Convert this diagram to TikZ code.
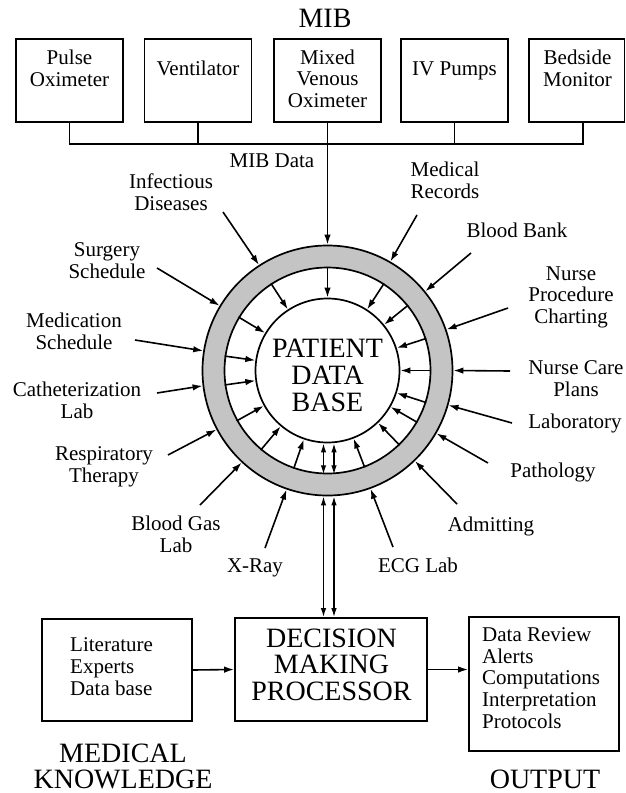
\documentclass[tikz,border=0pt]{standalone}
\usepackage{fontspec}
\setmainfont{Liberation Serif}
\usetikzlibrary{arrows.meta,calc}
\definecolor{bandgray}{RGB}{196,196,196}
\begin{document}
\begin{tikzpicture}[x=1pt,y=1pt,
  lw/.style={line width=1.7pt},
  arr/.style={line width=1.6pt,-{Latex[length=10pt,width=6.5pt]}},
  darr/.style={line width=1.4pt,{Latex[length=9pt,width=5.5pt]}-{Latex[length=9pt,width=5.5pt]}},
  lbl/.style={font=\fontsize{21}{21.5}\selectfont, align=center, inner sep=0pt, anchor=base},
  lbll/.style={font=\fontsize{21}{21.6}\selectfont, align=left, inner sep=0pt, anchor=base west},
  big/.style={font=\fontsize{28}{26.5}\selectfont, align=center, inner sep=0pt, anchor=base},
  topbox/.style={draw, lw, inner sep=0pt, minimum width=107pt, minimum height=83pt},
  rect/.style={draw, lw, inner sep=0pt},
]
\useasboundingbox (0,0) rectangle (625,-793);

% ---------- MIB ----------
\node[big] (mib) at (325,-27) {MIB};
\node[topbox] (po) at (69.5,-80.5) {};
\node[topbox] (ve) at (198,-80.5) {};
\node[topbox] (mv) at (327.5,-80.5) {};
\node[topbox] (iv) at (454.5,-80.5) {};
\node[topbox, minimum width=95.5pt] (bm) at (576.75,-80.5) {};
\node[lbl] (po-t) at (69.5,-86) {Pulse\\Oximeter};
\node[lbl] (ve-t) at (198,-75.5) {Ventilator};
\node[lbl] (mv-t) at (327.5,-107) {Mixed\\Venous\\Oximeter};
\node[lbl] (iv-t) at (454.5,-75.5) {IV Pumps};
\node[lbl] (bm-t) at (577.5,-86) {Bedside\\Monitor};

\coordinate (bmdrop) at ([xshift=6pt]bm.south);
\draw[lw] (po.south) -- ++(0,-21) coordinate (busl) -- (busl -| bmdrop) -- (bmdrop);
\draw[lw] (ve.south) -- (ve.south |- busl);
\draw[lw] (iv.south) -- (iv.south |- busl);

% ---------- ring ----------
\node[circle, draw, lw, fill=bandgray, minimum size=250pt, inner sep=0pt] (ring) at (327.5,-370.5) {};
\node[circle, draw, lw, fill=white, minimum size=206pt, inner sep=0pt] (bandin) at (ring.center) {};
\node[circle, draw, lw, fill=white, minimum size=144pt, inner sep=0pt] (pdb) at (ring.center) {};
\node[big, font=\fontsize{28}{27}\selectfont] (pdb-t) at (327.5,-411) {PATIENT\\DATA\\BASE};

\draw[arr] (mv.south) -- (ring.north);
\node[lbl] (mibdata) at (272,-167) {MIB Data};

\foreach \a in {123,90,57,39,18,0,342,330,314,291,251,230,209,188,172,149}
  \draw[arr] (bandin.\a) -- (pdb.\a);

% ---------- sources ----------
\node[lbl] (inf) at (171,-210) {Infectious\\Diseases};
\node[lbl] (sur) at (107,-278) {Surgery\\Schedule};
\node[lbl] (med) at (74,-349) {Medication\\Schedule};
\node[lbl] (cat) at (77,-418) {Catheterization\\Lab};
\node[lbl] (res) at (104,-482) {Respiratory\\Therapy};
\node[lbl] (bgl) at (176,-552) {Blood Gas\\Lab};
\node[lbl] (xr) at (255,-572) {X-Ray};
\node[lbl] (ecg) at (418,-572) {ECG Lab};
\node[lbl] (adm) at (491,-531) {Admitting};
\node[lbl] (pat) at (553,-477) {Pathology};
\node[lbl] (lab) at (575,-428) {Laboratory};
\node[lbl] (ncp) at (576,-396) {Nurse Care\\Plans};
\node[lbl] (npc) at (571,-323) {Nurse\\Procedure\\Charting};
\node[lbl] (bb) at (517,-237) {Blood Bank};
\node[lbl] (mr) at (445,-198) {Medical\\Records};

\coordinate (s-inf) at (223,-212);
\coordinate (s-sur) at (157,-268);
\coordinate (s-med) at (135,-340);
\coordinate (s-cat) at (157,-393);
\coordinate (s-res) at (168,-455);
\coordinate (s-bgl) at (200,-505);
\coordinate (s-xr) at (265,-548);
\coordinate (s-ecg) at (393,-547);
\coordinate (s-adm) at (457,-504);
\coordinate (s-pat) at (488,-463);
\coordinate (s-lab) at (512,-423);
\coordinate (s-ncp) at (510,-371);
\coordinate (s-npc) at (508,-308);
\coordinate (s-bb) at (471,-253);
\coordinate (s-mr) at (417,-215);

\draw[arr] (s-inf) -- (ring.123);
\draw[arr] (s-sur) -- (ring.149);
\draw[arr] (s-med) -- (ring.171);
\draw[arr] (s-cat) -- (ring.187.5);
\draw[arr] (s-res) -- (ring.208);
\draw[arr] (s-bgl) -- (ring.227);
\draw[arr] (s-xr) -- (ring.251);
\draw[arr] (s-ecg) -- (ring.290);
\draw[arr] (s-adm) -- (ring.314);
\draw[arr] (s-pat) -- (ring.330);
\draw[arr] (s-lab) -- (ring.344);
\draw[arr] (s-ncp) -- (ring.0);
\draw[arr] (s-npc) -- (ring.19);
\draw[arr] (s-bb) -- (ring.39);
\draw[arr] (s-mr) -- (ring.60);

% ---------- bottom ----------
\node[rect, minimum width=150pt, minimum height=102pt] (mk) at (117,-670) {};
\node[rect, minimum width=192pt, minimum height=103pt] (dmp) at (331,-669.5) {};
\node[rect, minimum width=150pt, minimum height=134pt] (out) at (544,-684) {};

\node[lbll] (mk-t) at (70,-695) {Literature\\Experts\\Data base};
\node[big] (dmp-t) at (331.5,-700) {DECISION\\MAKING\\PROCESSOR};
\node[lbll] (out-t) at (482,-728) {Data Review\\Alerts\\Computations\\Interpretation\\Protocols};
\node[big, font=\fontsize{28}{26}\selectfont] (mk-l) at (123,-788) {MEDICAL\\KNOWLEDGE};
\node[big] (out-l) at (545,-788) {OUTPUT};

\draw[arr] (mk.east) -- (dmp.west);
\draw[arr] (dmp.east) -- (dmp.east -| out.west);

\coordinate (da) at ([xshift=-4pt]ring.south);
\coordinate (db) at ([xshift=6.5pt]ring.south);
\draw[darr] (da) -- (da |- dmp.north);
\draw[darr] (db) -- (db |- dmp.north);
\draw[darr] ([xshift=-4pt]pdb.south) -- ([xshift=-4pt]bandin.south);
\draw[darr] ([xshift=6.5pt]pdb.south) -- ([xshift=6.5pt]bandin.south);
\end{tikzpicture}
\end{document}
